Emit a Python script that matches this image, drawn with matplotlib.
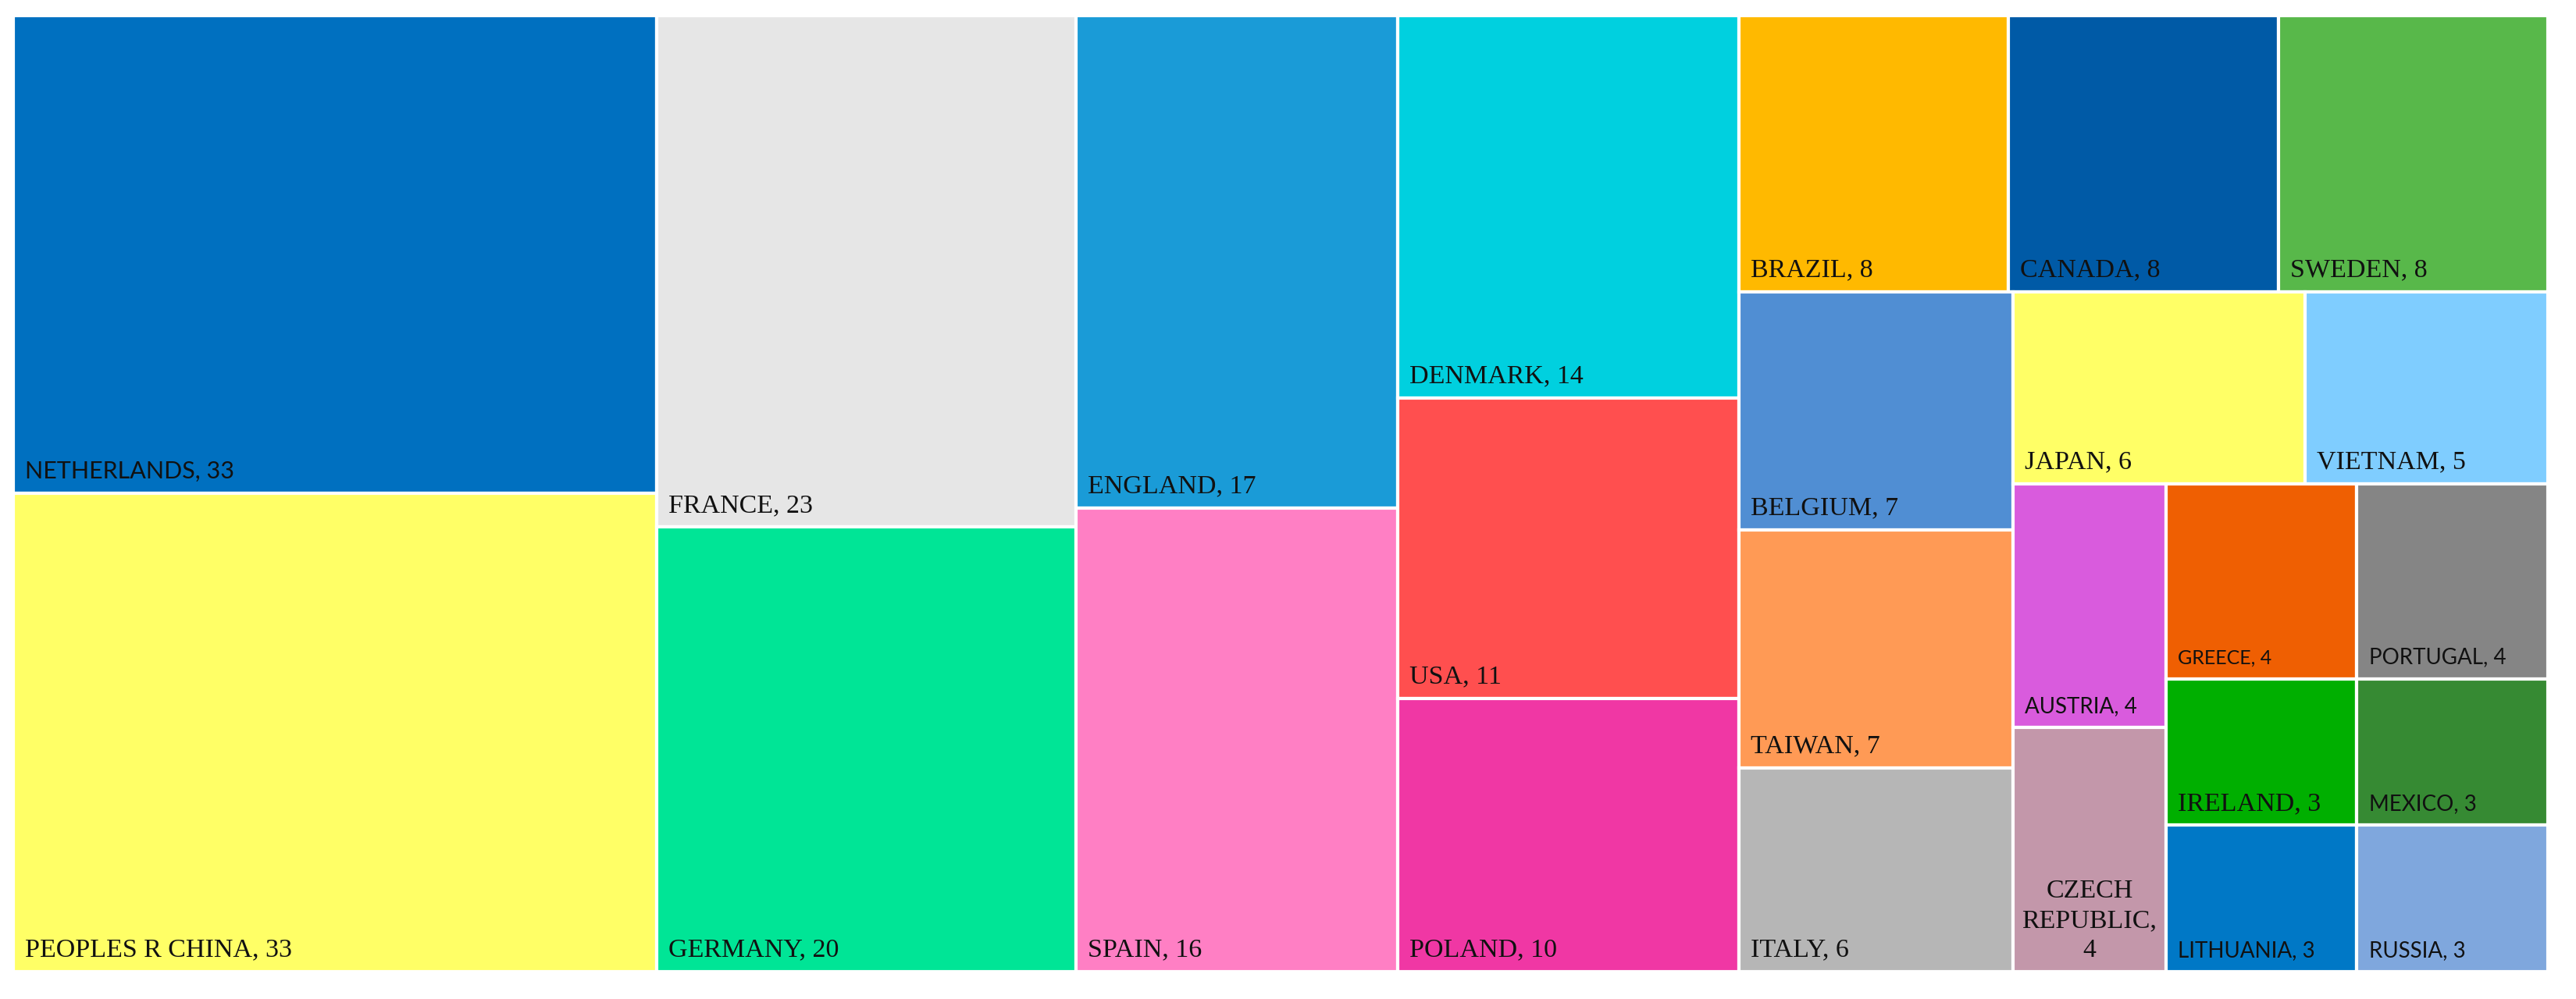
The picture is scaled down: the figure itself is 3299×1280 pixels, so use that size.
# Treemap of publications by country
import textwrap
import matplotlib.pyplot as plt
from matplotlib.patches import Rectangle

# Data
countries = [
    "NETHERLANDS", "PEOPLES R CHINA", "FRANCE", "GERMANY", "ENGLAND", "SPAIN",
    "DENMARK", "USA", "POLAND", "BRAZIL", "CANADA", "SWEDEN", "BELGIUM",
    "TAIWAN", "ITALY", "JAPAN", "VIETNAM", "AUSTRIA", "CZECH REPUBLIC",
    "GREECE", "PORTUGAL", "IRELAND", "LITHUANIA", "MEXICO", "RUSSIA",
]
counts = [33, 33, 23, 20, 17, 16, 14, 11, 10, 8, 8, 8, 7, 7, 6, 6, 5, 4, 4, 4, 4, 3, 3, 3, 3]

# Styles
colors = [
    "#0070C0", "#FFFF66", "#E6E6E6", "#00E596", "#1A9BD7", "#FF7FC4",
    "#00D0DF", "#FF4F4F", "#F037A4", "#FFB900", "#005AA6", "#58B84A", "#508ED3",
    "#FF9A55", "#B6B6B6", "#FFFF66", "#7FCDFF", "#D95BDD", "#C397AA",
    "#EF5F02", "#858585", "#00AF00", "#0078C6", "#368A33", "#7FA7DD",
]
sans_labels = {"NETHERLANDS": 22, "AUSTRIA": 20, "GREECE": 18, "PORTUGAL": 20,
               "MEXICO": 20, "LITHUANIA": 20, "RUSSIA": 20}
serif_size = 24.5


def worst(row, side):
    s = sum(row)
    return max(max(side ** 2 * a / s ** 2, s ** 2 / (side ** 2 * a)) for a in row)


def squarify(values, x, y, w, h):
    # standard squarified layout, rows placed along the shorter side
    scale = w * h / sum(values)
    areas = [v * scale for v in values]
    rects = []
    i = 0
    while i < len(areas):
        side = min(w, h)
        row = [areas[i]]
        j = i + 1
        while j < len(areas) and worst(row + [areas[j]], side) <= worst(row, side):
            row.append(areas[j])
            j += 1
        s = sum(row)
        if w >= h:
            cw = s / h
            yy = y
            for a in row:
                rects.append((x, yy, cw, a / cw))
                yy += a / cw
            x += cw
            w -= cw
        else:
            rh = s / w
            xx = x
            for a in row:
                rects.append((xx, y, a / rh, rh))
                xx += a / rh
            y += rh
            h -= rh
        i = j
    return rects


# Sort descending, ties alphabetical (as Excel does)
order = sorted(range(len(counts)), key=lambda k: (-counts[k], countries[k]))

# Layout computed on the original chart proportions (285 x 100), shown stretched
W, H = 285, 100
rects = squarify([counts[k] for k in order], 0, 0, W, H)

fig = plt.figure(figsize=(32.99, 12.8), dpi=100)
ax = fig.add_axes([17 / 3299, 35 / 1280, 3246 / 3299, 1225 / 1280])
ax.set_xlim(0, W)
ax.set_ylim(H, 0)
ax.axis("off")

renderer = fig.canvas.get_renderer()
for k, (x, y, w, h) in zip(order, rects):
    ax.add_patch(Rectangle((x, y), w, h, facecolor=colors[k], edgecolor="white", linewidth=3))
    label = f"{countries[k]}, {counts[k]}"
    if countries[k] in sans_labels:
        font = dict(family="Lato", fontsize=sans_labels[countries[k]])
    else:
        font = dict(family="Liberation Serif", fontsize=serif_size)
    t = ax.annotate(label, xy=(x, y + h), xytext=(11, 14), textcoords="offset points",
                    ha="left", va="baseline", color="#111111", **font)
    # wrap and centre labels that do not fit in their cell
    cell_px = ax.transData.transform((x + w, 0))[0] - ax.transData.transform((x, 0))[0]
    if t.get_window_extent(renderer).width > cell_px - 25:
        t.remove()
        ax.annotate(textwrap.fill(label, 9), xy=(x + w / 2, y + h), xytext=(0, 14),
                    textcoords="offset points", ha="center", va="baseline",
                    multialignment="center", linespacing=1.3, color="#111111", **font)

fig.savefig("out.png", dpi=100, facecolor="white")
